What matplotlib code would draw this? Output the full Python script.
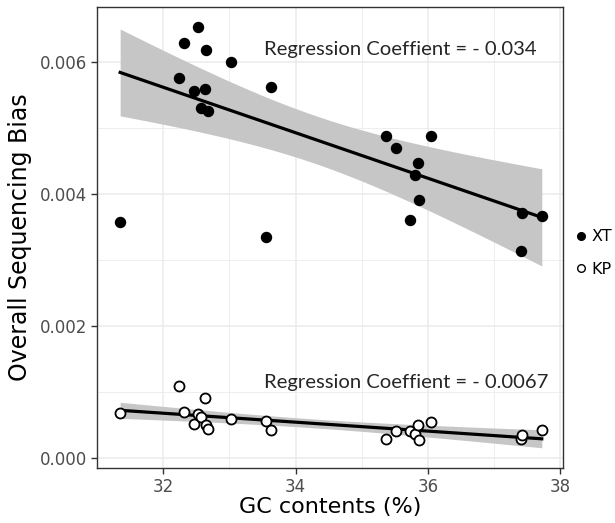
import numpy as np
import matplotlib
matplotlib.use("Agg")
import matplotlib.pyplot as plt
from matplotlib.lines import Line2D

# GC content (%) of each sample, shared by both library preps
gc_contents = [31.35, 32.24, 32.32, 32.47, 32.52, 32.57, 32.63, 32.645, 32.675, 33.02, 33.55,
               33.625, 35.37, 35.515, 35.735, 35.81, 35.855, 35.86, 36.05, 37.40, 37.42, 37.72]
# overall sequencing bias
xt_bias = [0.00357, 0.00575, 0.00628, 0.00556, 0.00652, 0.00530, 0.00559, 0.00618, 0.00526, 0.00599, 0.00334,
           0.00562, 0.00488, 0.00469, 0.00361, 0.00428, 0.00447, 0.00391, 0.00487, 0.00314, 0.00371, 0.00367]
kp_bias = [0.000677, 0.001086, 0.000697, 0.000510, 0.000667, 0.000616, 0.000914, 0.000495, 0.000444, 0.000586, 0.000565,
           0.000419, 0.000292, 0.000409, 0.000409, 0.000364, 0.000495, 0.000273, 0.000541, 0.000292, 0.000353, 0.000429]
series_names = ["XT", "KP"]
coef_labels = ["Regression Coeffient = - 0.034", "Regression Coeffient = - 0.0067"]
label_pos = [(33.52, 0.00618), (33.52, 0.00115)]
x_ticks = [32, 34, 36, 38]
y_ticks = [0.000, 0.002, 0.004, 0.006]
y_tick_labels = ["0.000", "0.002", "0.004", "0.006"]

T_CRIT = 2.086  # t(0.975, df=20)


def fit_band(x, y):
    # least squares line and 95% confidence band, like geom_smooth(method="lm")
    x = np.asarray(x)
    y = np.asarray(y)
    slope, intercept = np.polyfit(x, y, 1)
    resid = y - (slope * x + intercept)
    s = np.sqrt(np.sum(resid ** 2) / (len(x) - 2))
    xs = np.linspace(x.min(), x.max(), 80)
    fit = slope * xs + intercept
    se = s * np.sqrt(1 / len(x) + (xs - x.mean()) ** 2 / np.sum((x - x.mean()) ** 2))
    return xs, fit, fit - T_CRIT * se, fit + T_CRIT * se


fig = plt.figure(figsize=(6.15, 5.23), dpi=100)
ax = fig.add_axes([0.1577, 0.1052, 0.7577, 0.8814])

for yv in (xt_bias, kp_bias):
    xs, fit, lo, hi = fit_band(gc_contents, yv)
    ax.fill_between(xs, lo, hi, color="#c6c6c6", lw=0, zorder=2)
    ax.plot(xs, fit, color="black", lw=2.3, zorder=3)

ax.scatter(gc_contents, xt_bias, s=52, color="black", zorder=4)
ax.scatter(gc_contents, kp_bias, s=52, facecolor="white", edgecolor="black", linewidths=1.3, zorder=4)

for txt, (tx, ty) in zip(coef_labels, label_pos):
    ax.text(tx, ty, txt, fontsize=14.6, family="Lato", color="#262626", va="center", ha="left", zorder=5)

ax.set_xlim(31.01, 38.04)
ax.set_ylim(-0.00015, 0.00683)
ax.set_xticks(x_ticks)
ax.set_yticks(y_ticks)
ax.set_yticklabels(y_tick_labels)
ax.set_xticks([31, 33, 35, 37], minor=True)
ax.set_yticks([0.001, 0.003, 0.005], minor=True)
ax.grid(which="major", color="#ebebeb", lw=1.1, zorder=0)
ax.grid(which="minor", color="#ebebeb", lw=0.6, zorder=0)
ax.set_axisbelow(True)
ax.tick_params(which="major", length=4, width=1, color="#333333", labelsize=12, labelcolor="#4d4d4d", pad=3)
ax.tick_params(which="minor", length=0)
for sp in ax.spines.values():
    sp.set_color("#333333")
    sp.set_linewidth(1.0)

ax.set_xlabel("GC contents (%)", fontsize=16, color="black", labelpad=1)
ax.set_ylabel("Overall Sequencing Bias", fontsize=17, color="black", labelpad=6)

handles = [Line2D([], [], marker="o", ls="", color="black", ms=5.5),
           Line2D([], [], marker="o", ls="", markerfacecolor="white", markeredgecolor="black", ms=5.5, mew=1.0)]
fig.legend(handles, series_names, loc="center left", bbox_to_anchor=(0.918, 0.516), frameon=False,
           fontsize=11.5, handletextpad=0.1, labelspacing=1.1, handlelength=1.2, borderaxespad=0)

fig.savefig("out.png", dpi=100)
